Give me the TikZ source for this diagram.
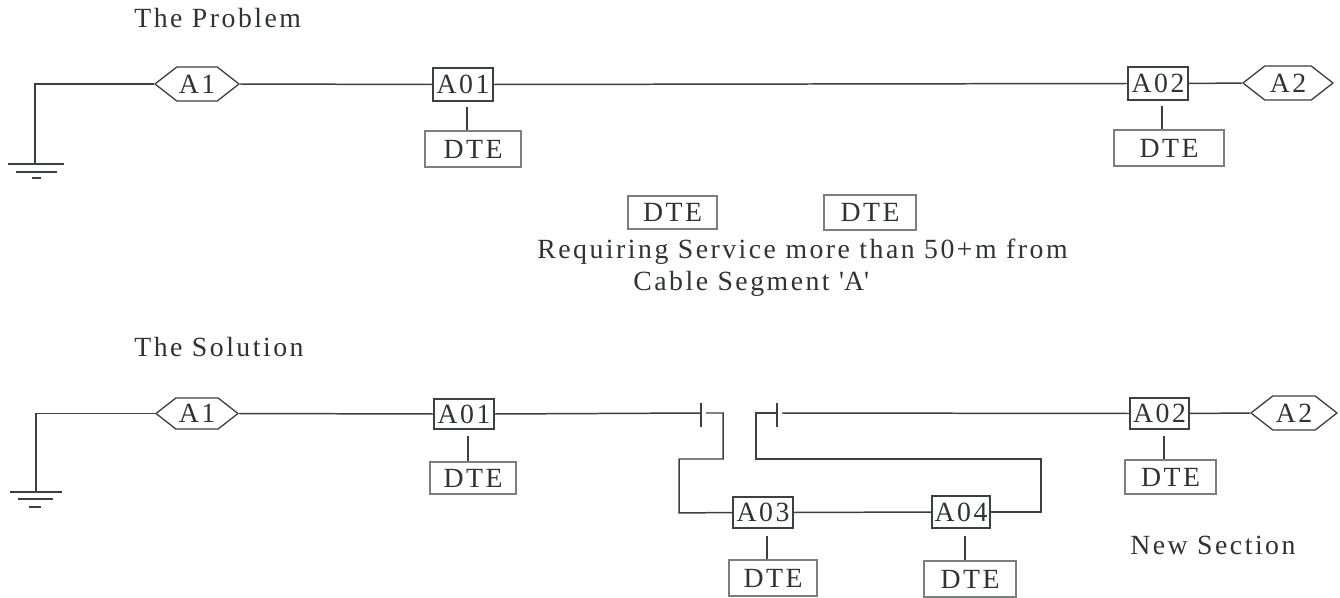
\documentclass[tikz,border=0pt]{standalone}
\usepackage{fontspec}
\setmainfont[LetterSpace=9]{Liberation Serif}
\usetikzlibrary{shapes.symbols}
\definecolor{inkline}{HTML}{3A4240}
\definecolor{inkgrey}{HTML}{7C7F7E}
\definecolor{inktext}{HTML}{2E3432}
\tikzset{
  wire/.style={draw=inkline,line width=0.85pt},
  tapbox/.style={draw=inkline,line width=0.75pt,text=inktext,inner sep=0pt,minimum height=0.66cm},
  dtebox/.style={draw=inkgrey,line width=0.9pt,text=inktext,inner sep=0pt},
  endcap/.style={shape=signal,signal to=west and east,signal pointer angle=76,draw=inkline,line width=0.75pt,text=inktext,inner sep=0pt,minimum height=0.68cm},
  caption/.style={text=inktext,inner sep=0pt,anchor=base west}
}
\begin{document}
\begin{tikzpicture}[x=0.02cm,y=-0.02cm,font=\fontsize{15.8}{19}\selectfont]
    \useasboundingbox (0,0) rectangle (1340,598);
    % upper drawing
    \node[caption] (titleA) at (134,28) {The Problem};
    \node[endcap,minimum width=1.68cm] (topA1) at (197,84) {A1};
    \node[tapbox,minimum width=1.2cm] (topA01) at (463,84.5) {A01};
    \node[tapbox,minimum width=1.2cm] (topA02) at (1158,83.5) {A02};
    \node[endcap,minimum width=1.8cm] (topA2) at (1288,83) {A2};
    \node[dtebox,minimum width=1.92cm,minimum height=0.72cm] (topDTEa) at (473,149) {DTE};
    \node[dtebox,minimum width=2.2cm,minimum height=0.72cm] (topDTEb) at (1169,148) {DTE};
    \node[dtebox,minimum width=1.78cm,minimum height=0.66cm] (midDTEa) at (672.5,212.5) {DTE};
    \node[dtebox,minimum width=1.84cm,minimum height=0.7cm] (midDTEb) at (870,212.5) {DTE};
    \node[caption] (needA) at (537,258) {Requiring Service more than 50+m from};
    \node[caption] (needB) at (633,291) {Cable Segment \textquotesingle A\textquotesingle};
    \coordinate (topCorner) at (35,84);
    \coordinate (topEarth) at (35,164);
    \coordinate (topStubA) at (467,107);
    \coordinate (topStubB) at (1162,106);
    \draw[wire] (topA1.west) -- (topCorner) -- (topEarth);
    \draw[wire] (topA1.east) -- (topA01.west);
    \draw[wire] (topA01.east) -- (topA02.west);
    \draw[wire] (topA02.east) -- (topA2.west);
    \draw[wire] (topStubA) -- (topStubA |- topDTEa.north);
    \draw[wire] (topStubB) -- (topStubB |- topDTEb.north);
    \draw[wire] (8,164) -- (64,164) (16,172) -- (57,172) (32,178) -- (41,178);
    % lower drawing
    \node[caption] (titleB) at (134,356) {The Solution};
    \node[endcap,minimum width=1.64cm,minimum height=0.62cm] (lowA1) at (197,413.5) {A1};
    \node[tapbox,minimum width=1.2cm,minimum height=0.6cm] (lowA01) at (464,414) {A01};
    \node[tapbox,minimum width=1.18cm,minimum height=0.62cm] (lowA02) at (1159.5,413.5) {A02};
    \node[endcap,minimum width=1.72cm] (lowA2) at (1294,413) {A2};
    \node[tapbox,minimum width=1.2cm,minimum height=0.62cm] (lowA03) at (763,512.5) {A03};
    \node[tapbox,minimum width=1.16cm,minimum height=0.64cm] (lowA04) at (961,512) {A04};
    \node[dtebox,minimum width=1.72cm,minimum height=0.64cm] (lowDTEa) at (473,478) {DTE};
    \node[dtebox,minimum width=1.82cm,minimum height=0.68cm] (lowDTEb) at (1170.5,477) {DTE};
    \node[dtebox,minimum width=1.76cm,minimum height=0.72cm] (lowDTEc) at (773,578) {DTE};
    \node[dtebox,minimum width=1.84cm,minimum height=0.72cm] (lowDTEd) at (970,579) {DTE};
    \node[caption] (newSec) at (1130,554) {New Section};
    \coordinate (lowCorner) at (36,413.5);
    \coordinate (lowEarth) at (36,492);
    \coordinate (lowStubA) at (468,436);
    \coordinate (lowStubB) at (1164,436);
    \coordinate (lowStubC) at (767,536);
    \coordinate (lowStubD) at (965,536);
    \coordinate (tickA) at (701,413);
    \coordinate (tickB) at (777,413);
    \draw[wire] (lowA1.west) -- (lowCorner) -- (lowEarth);
    \draw[wire] (lowA1.east) -- (lowA01.west);
    \draw[wire] (lowA01.east) -- (tickA);
    \draw[wire] (tickA |- 0,403) -- (tickA |- 0,427);
    \draw[wire] (706,413) -- (723,413) -- (723,459) -- (679,459) -- (679,513) -- (lowA03.west);
    \draw[wire] (lowA03.east) -- (lowA04.west);
    \draw[wire] (lowA04.east) -- (1041,512) -- (1041,459) -- (756,459) -- (756,413) -- (tickB);
    \draw[wire] (tickB |- 0,403) -- (tickB |- 0,427);
    \draw[wire] (782,413) -- (lowA02.west);
    \draw[wire] (lowA02.east) -- (lowA2.west);
    \draw[wire] (lowStubA) -- (lowStubA |- lowDTEa.north);
    \draw[wire] (lowStubB) -- (lowStubB |- lowDTEb.north);
    \draw[wire] (lowStubC) -- (lowStubC |- lowDTEc.north);
    \draw[wire] (lowStubD) -- (lowStubD |- lowDTEd.north);
    \draw[wire] (10,492) -- (62,492) (18,499) -- (53,499) (29,507) -- (41,507);
\end{tikzpicture}
\end{document}
